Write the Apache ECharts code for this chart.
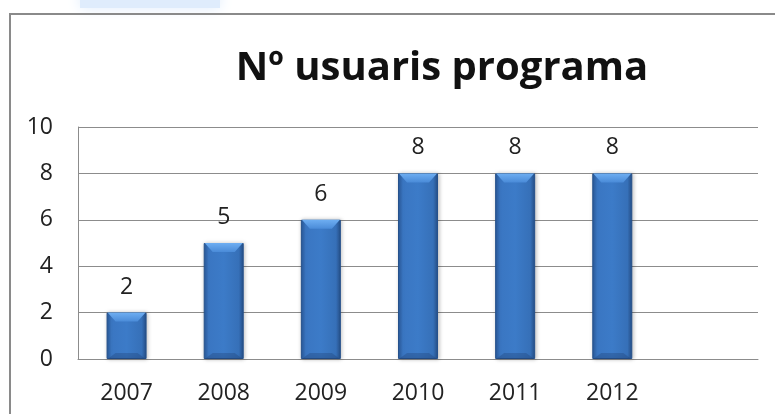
<!DOCTYPE html>
<html>
<head>
<meta charset="utf-8">
<script src="https://cdn.jsdelivr.net/npm/echarts@6/dist/echarts.min.js"></script>
<style>
  html, body { margin: 0; padding: 0; background: #fff; }
  #chart { width: 775px; height: 414px; }
</style>
</head>
<body>
<div id="chart"></div>
<script>
const titleText = 'Nº usuaris programa'
const years = ['2007', '2008', '2009', '2010', '2011', '2012', '']
const users = [2, 5, 6, 8, 8, 8, null]

const chart = echarts.init(document.getElementById('chart'), null, { renderer: 'canvas' })

const barFill = new echarts.graphic.LinearGradient(0, 0, 1, 0, [
  { offset: 0, color: '#2a5b9c' },
  { offset: 0.12, color: '#3a76c2' },
  { offset: 0.5, color: '#3c7bc8' },
  { offset: 0.88, color: '#3670b8' },
  { offset: 1, color: '#264f88' },
])

// bevel highlights on top of each bar, placed with the axis scale
function renderBevel(params, api) {
  const v = api.value(1)
  if (v == null || isNaN(v)) return null
  const top = api.coord([api.value(0), v])
  const base = api.coord([api.value(0), 0])
  const w = 40
  const x0 = top[0] - w / 2
  const x1 = top[0] + w / 2
  const b = 9
  return {
    type: 'group',
    children: [
      {
        type: 'polygon',
        shape: { points: [[x0 + 1, top[1]], [x1 - 1, top[1]], [x1 - b, top[1] + b], [x0 + b, top[1] + b]] },
        style: {
          fill: new echarts.graphic.LinearGradient(0, 0, 0, 1, [
            { offset: 0, color: '#6eaef2' },
            { offset: 1, color: '#4a8bd8' },
          ]),
        },
      },
      {
        type: 'polygon',
        shape: { points: [[x0 + 1, base[1]], [x1 - 1, base[1]], [x1 - b, base[1] - 6], [x0 + b, base[1] - 6]] },
        style: { fill: 'rgba(30,60,110,0.3)' },
      },
    ],
  }
}

chart.setOption({
  animation: false,
  textStyle: { fontFamily: 'Open Sans' },
  title: {
    text: titleText,
    left: 437,
    top: 44,
    textAlign: 'center',
    textStyle: { fontSize: 40, fontWeight: 'bold', color: '#111', fontFamily: 'Open Sans' },
  },
  graphic: [
    {
      type: 'rect',
      shape: { x: 80, y: -10, width: 140, height: 18 },
      style: { fill: '#dfecfc', shadowBlur: 14, shadowColor: '#dfecfc' },
      silent: true,
    },
    {
      type: 'polyline',
      shape: { points: [[10, 420], [10, 14], [780, 14]] },
      style: { stroke: '#8a8a8a', lineWidth: 2, fill: null },
      silent: true,
    },
  ],
  grid: { left: 78, right: 17, top: 127, bottom: 55 },
  xAxis: {
    type: 'category',
    data: years,
    axisLine: { lineStyle: { color: '#8c8c8c' } },
    axisTick: { show: false },
    axisLabel: { color: '#222', fontSize: 23, margin: 23 },
  },
  yAxis: {
    type: 'value',
    min: 0,
    max: 10,
    interval: 2,
    axisLine: { show: true, lineStyle: { color: '#8c8c8c' } },
    axisTick: { show: false },
    axisLabel: { color: '#222', fontSize: 23, margin: 25 },
    splitLine: { lineStyle: { color: '#8c8c8c' } },
  },
  series: [
    {
      type: 'bar',
      data: users,
      barWidth: 40,
      itemStyle: {
        color: barFill,
        borderColor: '#25518c',
        borderWidth: 1,
        shadowColor: 'rgba(0,0,0,0.25)',
        shadowBlur: 4,
        shadowOffsetX: 1,
      },
      label: {
        show: true,
        position: 'top',
        distance: 14,
        color: '#222',
        fontSize: 23,
      },
    },
    {
      type: 'custom',
      renderItem: renderBevel,
      data: users.map((v, i) => [i, v]),
      z: 3,
      silent: true,
    },
  ],
})
</script>
</body>
</html>
